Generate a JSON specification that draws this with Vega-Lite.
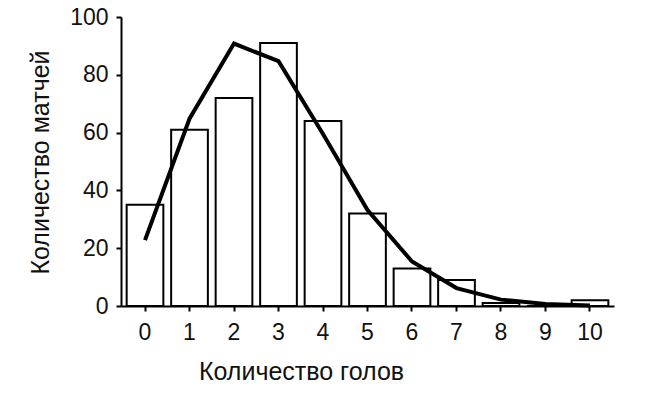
{
  "$schema": "https://vega.github.io/schema/vega-lite/v6.json",
  "width": 493,
  "height": 289,
  "autosize": {"type": "none"},
  "padding": {"left": 121, "top": 17, "right": 36, "bottom": 88},
  "background": "white",
  "data": {"values": [
    {"goals": 0, "matches": 35, "expected": 22.8},
    {"goals": 1, "matches": 61, "expected": 64.8},
    {"goals": 2, "matches": 72, "expected": 90.8},
    {"goals": 3, "matches": 91, "expected": 84.7},
    {"goals": 4, "matches": 64, "expected": 59.5},
    {"goals": 5, "matches": 32, "expected": 33.2},
    {"goals": 6, "matches": 13, "expected": 15.4},
    {"goals": 7, "matches": 9, "expected": 6.2},
    {"goals": 8, "matches": 1, "expected": 2.2},
    {"goals": 9, "matches": 0, "expected": 0.7},
    {"goals": 10, "matches": 2, "expected": 0.2}
  ]},
  "config": {
    "view": {"stroke": null},
    "font": "Liberation Sans",
    "axis": {
      "grid": false,
      "domainColor": "black",
      "domainWidth": 2,
      "tickColor": "black",
      "tickWidth": 2,
      "tickSize": 5,
      "labelFontSize": 23,
      "labelColor": "#111",
      "titleFontSize": 25,
      "titleFontWeight": "normal",
      "titleColor": "#111"
    }
  },
  "encoding": {
    "x": {
      "field": "goals",
      "type": "ordinal",
      "scale": {"paddingInner": 0.175, "paddingOuter": 0.127},
      "axis": {
        "title": "Количество голов",
        "labelAngle": 0,
        "labelPadding": 10,
        "titleX": 180,
        "titleY": 73,
        "titleBaseline": "alphabetic",
        "titleAnchor": "middle",
        "titleAlign": "center"
      }
    }
  },
  "layer": [
    {
      "mark": {"type": "bar", "fill": "white", "stroke": "black", "strokeWidth": 2},
      "encoding": {
        "y": {
          "field": "matches",
          "type": "quantitative",
          "scale": {"domain": [0, 100], "nice": false},
          "axis": {
            "title": "Количество матчей",
            "values": [0, 20, 40, 60, 80, 100],
            "labelPadding": 8,
            "titleX": -73,
            "titleY": 145,
            "titleBaseline": "alphabetic",
            "titleAlign": "center",
            "titleAngle": -90
          }
        }
      }
    },
    {
      "mark": {"type": "line", "color": "black", "strokeWidth": 4},
      "encoding": {
        "y": {"field": "expected", "type": "quantitative"}
      }
    }
  ]
}
